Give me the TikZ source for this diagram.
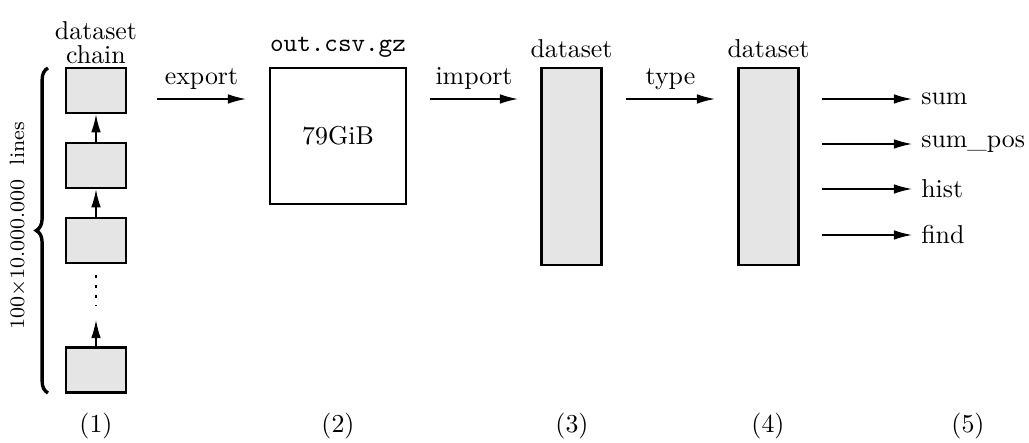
\documentclass[tikz,border=0pt]{standalone}
\usepackage{tikz}
\usetikzlibrary{arrows.meta,positioning,decorations.pathreplacing}

\begin{document}
\begin{tikzpicture}[
    x=0.0136cm, y=-0.0136cm,
    node distance=0pt,
    block/.style={draw, line width=1pt, fill=black!10, inner sep=0pt},
    chainbox/.style={block, minimum width=0.816cm, minimum height=0.612cm},
    tallbox/.style={block, minimum width=0.81cm, minimum height=2.68cm},
    >={Latex[length=2.45mm, width=1.3mm]},
    every path/.style={line width=0.55pt}
  ]
    \useasboundingbox (0,0) rectangle (1029,443);

    % (1) chain of datasets
    \node[chainbox] (chain1) at (96,90.5) {};
    \node[chainbox] (chain2) at (96,165.5) {};
    \node[chainbox] (chain3) at (96,240.5) {};
    \node[chainbox] (chain4) at (96,370) {};
    \node[above=of chain1, align=center, inner sep=1pt] (chainlbl) {dataset\\[-3pt]chain};
    \coordinate (dotstop) at (96,275);
    \coordinate (dotsbot) at (96,306);
    \coordinate (chaintip) at (96,320);

    \draw[->] (chain2) -- (chain1);
    \draw[->] (chain3) -- (chain2);
    \draw[->] (chain4) -- (chaintip);
    \draw[line width=1pt, dash pattern=on 1pt off 2.9pt] (dotstop) -- (dotsbot);

    \coordinate (bracetop) at (48,68);
    \coordinate (bracebot) at (48,393);
    \draw[line width=1.3pt, decorate, decoration={brace, amplitude=0.16cm}] (bracebot) -- (bracetop);
    \node[rotate=90, font=\footnotesize] (lines) at (18,226) {100$\times$10.000.000~~lines};

    % (2) exported file
    \node[draw, line width=1pt, minimum width=1.85cm, minimum height=1.85cm] (file) at (338,136) {79GiB};
    \node[above=of file, font=\ttfamily] (filelbl) {out.csv.gz};

    % (3) imported dataset
    \node[tallbox] (imported) at (571.5,166.5) {};
    \node[above=of imported] (importedlbl) {dataset};

    % (4) typed dataset
    \node[tallbox] (typed) at (768.5,166.5) {};
    \node[above=of typed] (typedlbl) {dataset};

    % connectors between the stages
    \coordinate (exp1) at (157,99);
    \coordinate (exp2) at (246,99);
    \coordinate (imp1) at (430,99);
    \coordinate (imp2) at (518,99);
    \coordinate (typ1) at (626,99);
    \coordinate (typ2) at (715,99);
    \draw[->] (exp1) -- node[above] {export} (exp2);
    \draw[->] (imp1) -- node[above] {import} (imp2);
    \draw[->] (typ1) -- node[above] {type} (typ2);

    % (5) methods
    \node[anchor=west] (sum) at (912,99) {sum};
    \node[anchor=west] (sumpos) at (912,144) {sum\_pos};
    \node[anchor=west] (hist) at (912,189) {hist};
    \node[anchor=west] (find) at (912,235) {find};
    \coordinate (m1) at (822,99);
    \coordinate (m2) at (822,144);
    \coordinate (m3) at (822,189);
    \coordinate (m4) at (822,235);
    \draw[->] (m1) -- (sum.west);
    \draw[->] (m2) -- (sumpos.west);
    \draw[->] (m3) -- (hist.west);
    \draw[->] (m4) -- (find.west);

    % stage numbers
    \node (n1) at (96,426) {(1)};
    \node (n2) at (338,426) {(2)};
    \node (n3) at (572,426) {(3)};
    \node (n4) at (768,426) {(4)};
    \node (n5) at (968,426) {(5)};
  \end{tikzpicture}
\end{document}
